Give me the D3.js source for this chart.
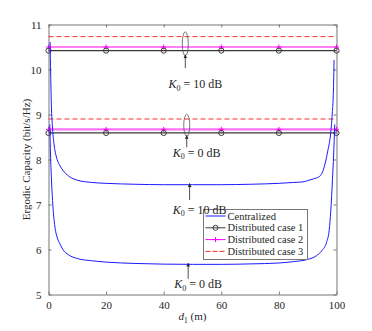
<!DOCTYPE html>
<html>
<head>
<meta charset="utf-8">
<script src="https://cdn.jsdelivr.net/npm/d3@7/dist/d3.min.js"></script>
<style>
    body { margin: 0; background: #fff; }
    svg text { font-family: "Liberation Serif", "DejaVu Serif", serif; fill: #262626; }
</style>
</head>
<body>
<div id="chart"></div>
<script>
// tick labels
var xTicks = [0, 20, 40, 60, 80, 100];
var yTicks = [5, 6, 7, 8, 9, 10, 11];

// centralized curves (d1 in m, capacity in bit/s/Hz)
var cenD1_10dB = [0.55, 0.75, 1, 1.4, 2, 2.5, 3, 4, 5, 7, 10, 15, 20, 30, 40, 50, 60, 70, 80, 85, 88, 90, 92, 94, 95, 96, 97, 98, 98.5, 99, 99.15];
var cenCap_10dB = [10.61, 9.9, 9.2, 8.7, 8.3, 8.12, 8.0, 7.86, 7.76, 7.63, 7.54, 7.49, 7.47, 7.45, 7.44, 7.44, 7.44, 7.45, 7.47, 7.49, 7.5, 7.53, 7.57, 7.62, 7.7, 7.9, 8.2, 8.6, 9.0, 9.7, 10.21];
var cenD1_0dB = [0.45, 0.7, 1, 1.4, 2, 2.5, 3, 4, 5, 7, 10, 15, 20, 30, 40, 50, 60, 70, 80, 85, 90, 93, 95, 96.5, 97.5, 98, 98.6, 99, 99.4];
var cenCap_0dB = [8.78, 8.1, 7.6, 7.09, 6.62, 6.4, 6.27, 6.12, 6.0, 5.88, 5.8, 5.75, 5.72, 5.69, 5.675, 5.67, 5.67, 5.68, 5.7, 5.73, 5.78, 5.86, 5.98, 6.15, 6.45, 6.85, 7.55, 8.1, 8.78];

// distributed cases, sampled at the marker positions
var distD1 = [0, 20, 40, 60, 80, 100];
var case1_10dB = [10.42, 10.42, 10.42, 10.42, 10.42, 10.42];
var case2_10dB = [10.5, 10.5, 10.5, 10.5, 10.5, 10.5];
var case3_10dB = [10.73, 10.73, 10.73, 10.73, 10.73, 10.73];
var case1_0dB = [8.59, 8.59, 8.59, 8.59, 8.59, 8.59];
var case2_0dB = [8.67, 8.67, 8.67, 8.67, 8.67, 8.67];
var case3_0dB = [8.9, 8.9, 8.9, 8.9, 8.9, 8.9];

var legendNames = ["Centralized", "Distributed case 1", "Distributed case 2", "Distributed case 3"];

var serif = "'Liberation Serif', 'DejaVu Serif', serif";

CapacityChart = function(_parentElement) {
    this.parentElement = _parentElement;
    this.initVis();
}

CapacityChart.prototype.initVis = function() {
    var vis = this;

    vis.margin = {top: 24.5, right: 35.5, bottom: 36.5, left: 48.5};
    vis.width = 372 - vis.margin.left - vis.margin.right;
    vis.height = 331 - vis.margin.top - vis.margin.bottom;

    vis.svg = d3.select("#" + vis.parentElement).append("svg")
        .attr("width", 372)
        .attr("height", 331)
        .attr("font-family", serif);

    vis.g = vis.svg.append("g")
        .attr("transform", "translate(" + vis.margin.left + "," + vis.margin.top + ")");

    vis.x = d3.scaleLinear().domain([0, 100]).range([0, vis.width]);
    vis.y = d3.scaleLinear().domain([5, 11]).range([vis.height, 0]);

    // axes with ticks inside on all four sides
    vis.g.append("g")
        .attr("class", "axis")
        .attr("transform", "translate(0," + vis.height + ")")
        .call(d3.axisBottom(vis.x).tickValues(xTicks).tickSizeInner(-3).tickSizeOuter(0).tickPadding(7).tickFormat(d3.format("d")));
    vis.g.append("g")
        .attr("class", "axis")
        .call(d3.axisTop(vis.x).tickValues(xTicks).tickSizeInner(-3).tickSizeOuter(0).tickFormat(""));
    vis.g.append("g")
        .attr("class", "axis")
        .call(d3.axisLeft(vis.y).tickValues(yTicks).tickSizeInner(-3).tickSizeOuter(0).tickPadding(7).tickFormat(d3.format("d")));
    vis.g.append("g")
        .attr("class", "axis")
        .attr("transform", "translate(" + vis.width + ",0)")
        .call(d3.axisRight(vis.y).tickValues(yTicks).tickSizeInner(-3).tickSizeOuter(0).tickFormat(""));

    vis.g.selectAll(".axis").attr("font-family", serif);
    vis.g.selectAll(".axis path, .axis line").attr("stroke", "#777");
    vis.g.selectAll(".axis text").attr("font-size", 11).attr("fill", "#262626");

    // axis titles
    vis.svg.append("text")
        .attr("transform", "rotate(-90)")
        .attr("x", -(vis.margin.top + vis.height / 2))
        .attr("y", 30)
        .attr("text-anchor", "middle")
        .attr("font-size", 11)
        .text("Ergodic Capacity (bit/s/Hz)");

    var xl = vis.svg.append("text")
        .attr("x", vis.margin.left + vis.width / 2)
        .attr("y", 320)
        .attr("text-anchor", "middle")
        .attr("font-size", 11);
    xl.append("tspan").attr("font-style", "italic").text("d");
    xl.append("tspan").attr("font-size", 7.5).attr("dy", 2.5).text("1");
    xl.append("tspan").attr("dy", -2.5).text(" (m)");

    vis.line = d3.line()
        .x(function(d) { return vis.x(d[0]); })
        .y(function(d) { return vis.y(d[1]); });

    var zip = function(a, b) { return a.map(function(v, i) { return [v, b[i]]; }); };

    // distributed case 3
    [case3_10dB, case3_0dB].forEach(function(vals) {
        vis.g.append("path")
            .datum(zip(distD1, vals))
            .attr("fill", "none")
            .attr("stroke", "#ff2a2a")
            .attr("stroke-width", 1)
            .attr("stroke-dasharray", "5,3")
            .attr("d", vis.line);
    });

    // distributed case 2
    [[case2_10dB, 1.2], [case2_0dB, 2.2]].forEach(function(s) {
        var pts = zip(distD1, s[0]);
        vis.g.append("path")
            .datum(pts)
            .attr("fill", "none")
            .attr("stroke", s[1] > 2 ? "#ff70ff" : "#ff00ff")
            .attr("stroke-width", s[1])
            .attr("d", vis.line);
        vis.g.append("g").selectAll("path")
            .data(pts)
            .enter().append("path")
            .attr("d", function(d) {
                var cx = vis.x(d[0]), cy = vis.y(d[1]);
                return "M" + (cx - 2.5) + "," + cy + "H" + (cx + 2.5) + "M" + cx + "," + (cy - 2.5) + "V" + (cy + 2.5);
            })
            .attr("stroke", "#ff00ff")
            .attr("stroke-width", 1);
    });

    // distributed case 1
    [case1_10dB, case1_0dB].forEach(function(vals) {
        var pts = zip(distD1, vals);
        vis.g.append("path")
            .datum(pts)
            .attr("fill", "none")
            .attr("stroke", "#3a3a3a")
            .attr("stroke-width", 1.3)
            .attr("d", vis.line);
        vis.g.append("g").selectAll("circle")
            .data(pts)
            .enter().append("circle")
            .attr("cx", function(d) { return vis.x(d[0]); })
            .attr("cy", function(d) { return vis.y(d[1]); })
            .attr("r", 2.6)
            .attr("fill", "none")
            .attr("stroke", "#3a3a3a")
            .attr("stroke-width", 1);
    });

    // centralized
    [[cenD1_10dB, cenCap_10dB], [cenD1_0dB, cenCap_0dB]].forEach(function(s) {
        vis.g.append("path")
            .datum(zip(s[0], s[1]))
            .attr("fill", "none")
            .attr("stroke", "#1a1aff")
            .attr("stroke-width", 1)
            .attr("d", vis.line.curve(d3.curveMonotoneX));
    });
    vis.line.curve(d3.curveLinear);

    // legend
    vis.legend = vis.svg.append("g")
        .attr("transform", "translate(203.5,209.5)");
    vis.legend.append("rect")
        .attr("width", 104)
        .attr("height", 50)
        .attr("fill", "#fff")
        .attr("stroke", "#777")
        .attr("stroke-width", 1);

    var items = vis.legend.selectAll(".item")
        .data(legendNames)
        .enter().append("g")
        .attr("class", "item")
        .attr("transform", function(d, i) { return "translate(0," + (6.5 + i * 11.8) + ")"; });

    items.append("line")
        .attr("x1", 2).attr("x2", 22)
        .attr("stroke", function(d, i) { return ["#1a1aff", "#3a3a3a", "#ff00ff", "#ff2a2a"][i]; })
        .attr("stroke-width", 1)
        .attr("stroke-dasharray", function(d, i) { return i == 3 ? "5,2" : null; });
    items.filter(function(d, i) { return i == 1; }).append("circle")
        .attr("cx", 12).attr("r", 2.5)
        .attr("fill", "none").attr("stroke", "#3a3a3a");
    items.filter(function(d, i) { return i == 2; }).append("path")
        .attr("d", "M9.5,0H14.5M12,-2.5V2.5")
        .attr("stroke", "#ff00ff");
    items.append("text")
        .attr("x", 24)
        .attr("dy", "0.35em")
        .attr("font-size", 10.5)
        .text(function(d) { return d; });

    // annotations drawn on top of the legend: ellipses, arrows and K0 labels
    vis.svg.append("defs").append("marker")
        .attr("id", "head")
        .attr("viewBox", "0 0 10 10")
        .attr("refX", 10).attr("refY", 5)
        .attr("markerWidth", 4.5).attr("markerHeight", 6)
        .attr("orient", "auto")
        .append("path")
        .attr("d", "M0,0L10,5L0,10Z")
        .attr("fill", "#222");

    vis.notes = vis.svg.append("g")
        .attr("transform", "translate(" + vis.margin.left + "," + vis.margin.top + ")");

    var notes = [
        {x: 47.5, head: 10.33, tail: 10.03, ell: 10.57, ry: 12, label: "10", ly: 9.58},
        {x: 48.0, head: 8.54, tail: 8.27, ell: 8.76, ry: 11, label: "0", ly: 8.06},
        {x: 49.0, head: 7.47, tail: 7.1, ell: null, label: "10", ly: 6.8},
        {x: 48.5, head: 5.7, tail: 5.35, ell: null, label: "0", ly: 5.14}
    ];
    notes.forEach(function(n) {
        var cx = vis.x(n.x);
        if (n.ell !== null) {
            vis.notes.append("ellipse")
                .attr("cx", cx).attr("cy", vis.y(n.ell))
                .attr("rx", 3).attr("ry", n.ry)
                .attr("fill", "none").attr("stroke", "#555").attr("stroke-width", 0.8);
        }
        vis.notes.append("line")
            .attr("x1", cx).attr("x2", cx)
            .attr("y1", vis.y(n.tail)).attr("y2", vis.y(n.head))
            .attr("stroke", "#222").attr("stroke-width", 0.8)
            .attr("marker-end", "url(#head)");
        var t = vis.notes.append("text")
            .attr("x", cx + 10)
            .attr("y", vis.y(n.ly))
            .attr("text-anchor", "middle")
            .attr("font-size", 12);
        t.append("tspan").attr("font-style", "italic").text("K");
        t.append("tspan").attr("font-size", 8).attr("dy", 2.5).text("0");
        t.append("tspan").attr("dy", -2.5).text(" = " + n.label + " dB");
    });
}

new CapacityChart("chart");
</script>
</body>
</html>
